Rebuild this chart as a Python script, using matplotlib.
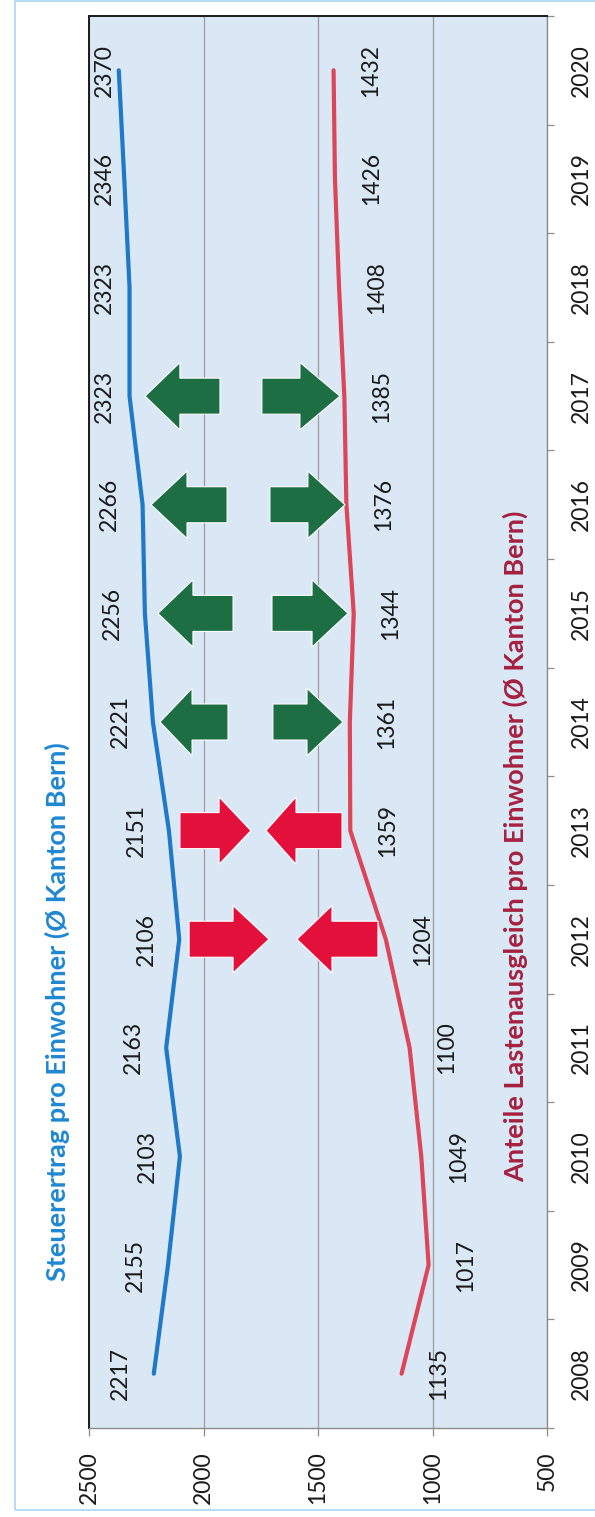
import matplotlib.pyplot as plt
import numpy as np
from matplotlib.patches import Polygon, Rectangle

plt.rcParams['font.family'] = ['Lato', 'DejaVu Sans']

# data
years = [2008, 2009, 2010, 2011, 2012, 2013, 2014, 2015, 2016, 2017, 2018, 2019, 2020]
steuer = [2217, 2155, 2103, 2163, 2106, 2151, 2221, 2256, 2266, 2323, 2323, 2346, 2370]
lasten = [1135, 1017, 1049, 1100, 1204, 1359, 1361, 1344, 1376, 1385, 1408, 1426, 1432]
value_ticks = [2500, 2000, 1500, 1000, 500]
title_blue = "Steuerertrag pro Einwohner (Ø Kanton Bern)"
title_red = "Anteile Lastenausgleich pro Einwohner (Ø Kanton Bern)"

# arrows: year, tail, head base, tip (in value units)
green_arrows = [
    (2017, 1928, 2103, 2255), (2017, 1745, 1579, 1404),
    (2016, 1897, 2072, 2229), (2016, 1710, 1544, 1382),
    (2015, 1871, 2046, 2199), (2015, 1701, 1526, 1369),
    (2014, 1893, 2050, 2190), (2014, 1697, 1548, 1391),
]
red_arrows = [
    (2013, 2103, 1932, 1793), (2013, 1395, 1596, 1727),
    (2012, 2063, 1871, 1714), (2012, 1238, 1439, 1592),
]

W, H = 595, 1517
fig = plt.figure(figsize=(W / 100, H / 100), dpi=100)
fig.patch.set_facecolor('white')

# outer frame of the scanned chart
fig.patches.append(Rectangle((15 / W, 1 - 1510 / H), 1.0, 1509 / H, transform=fig.transFigure,
                             fill=False, edgecolor='#a9d6f2', lw=1.2))

ax = fig.add_axes([89 / W, 1 - 1428 / H, (547 - 89) / W, (1428 - 16) / H])
ax.set_facecolor('#dae7f5')
ax.set_xlim(2500, 500)
ax.set_ylim(2007.5, 2020.5)

ax.grid(axis='x', color='#9c9c9c', lw=0.9)
ax.set_axisbelow(True)

ax.plot(steuer, years, color='#1f78c8', lw=3.0, solid_capstyle='round', zorder=3)
ax.plot(lasten, years, color='#dc4658', lw=3.0, solid_capstyle='round', zorder=3)

for y, v in zip(years, steuer):
    ax.text(min(v + 144, 2435), y, str(v), rotation=90, ha='center', va='center',
            fontsize=16.5, color='#1a1a1a')
for y, v in zip(years, lasten):
    ax.text(v - 162, y, str(v), rotation=90, ha='center', va='center',
            fontsize=16.5, color='#1a1a1a')

hw, sw = 0.31, 0.166
for arrows, col in ((green_arrows, '#1d6e42'), (red_arrows, '#e3103c')):
    for y, tail, base, tip in arrows:
        pts = [(tail, y - sw), (base, y - sw), (base, y - hw), (tip, y),
               (base, y + hw), (base, y + sw), (tail, y + sw)]
        ax.add_patch(Polygon(pts, closed=True, facecolor=col, edgecolor='white',
                             lw=0.8, zorder=4))

ax.set_xticks(value_ticks)
ax.set_xticklabels([str(t) for t in value_ticks], rotation=90, fontsize=16.5, color='#1a1a1a')
ax.tick_params(axis='x', length=6, width=0.9, color='#8c8c8c', pad=11)

ax.yaxis.tick_right()
ax.set_yticks(years)
ax.set_yticklabels([str(y) for y in years], rotation=90, va='center', fontsize=16.5,
                   color='#1a1a1a')
ax.set_yticks([y - 0.5 for y in years] + [years[-1] + 0.5], minor=True)
ax.tick_params(axis='y', which='major', length=0, pad=17)
ax.tick_params(axis='y', which='minor', length=5, width=0.9, color='#8c8c8c', direction='out')

for side in ('left', 'top'):
    ax.spines[side].set_color('#1a1a1a')
    ax.spines[side].set_linewidth(1.4)
for side in ('right', 'bottom'):
    ax.spines[side].set_color('#8c8c8c')
    ax.spines[side].set_linewidth(1.0)

fig.text(57 / W, 1 - 1012 / H, title_blue, rotation=90, ha='center', va='center',
         fontsize=19.5, fontweight='bold', color='#1f87d2')
fig.text(515 / W, 1 - 846 / H, title_red, rotation=90, ha='center', va='center',
         fontsize=19.5, fontweight='bold', color='#a5203e')

fig.savefig('out.png', dpi=100)
